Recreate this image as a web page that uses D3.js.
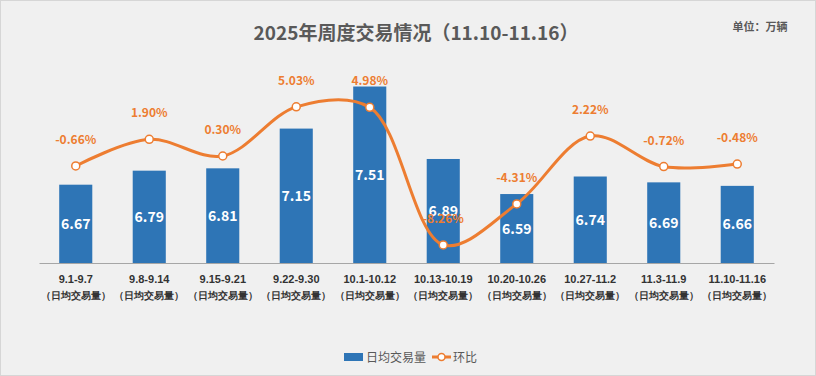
<!DOCTYPE html>
<html>
<head>
<meta charset="utf-8">
<script src="https://cdn.jsdelivr.net/npm/d3@7"></script>
<style>
  body { margin: 0; background: #ffffff; }
  svg { display: block; font-family: "Noto Sans CJK SC", "Noto Sans", sans-serif; }
</style>
</head>
<body>
<svg id="chart" width="816" height="376"></svg>
<script>
// weekly categories
const weeks = ["9.1-9.7", "9.8-9.14", "9.15-9.21", "9.22-9.30", "10.1-10.12",
               "10.13-10.19", "10.20-10.26", "10.27-11.2", "11.3-11.9", "11.10-11.16"];
const subLabel = "（日均交易量）";
// daily average volume (万辆)
const volume = [6.67, 6.79, 6.81, 7.15, 7.51, 6.89, 6.59, 6.74, 6.69, 6.66];
// week-on-week change (%)
const change = [-0.66, 1.90, 0.30, 5.03, 4.98, -8.26, -4.31, 2.22, -0.72, -0.48];

const svg = d3.select("svg#chart");
const width = +svg.attr("width");
const height = +svg.attr("height");
const margin = { top: 76, right: 42, bottom: 113, left: 39 };

const blue = "#2e75b6";
const orange = "#ed7d31";
const pct = d => d3.format(".2f")(d).replace("−", "-") + "%";

// background panel
svg.append("rect")
    .attr("x", 0.5).attr("y", 0.5)
    .attr("width", width - 1).attr("height", height - 1)
    .attr("fill", "#f0f0f0")
    .attr("stroke", "#d6d6d6");

const x = d3.scaleBand()
    .domain(weeks)
    .range([margin.left, width - margin.right])
    .paddingInner(0.55)
    .paddingOuter(0.275);

const y = d3.scaleLinear()
    .domain([6, 7.6])
    .range([height - margin.bottom, margin.top]);

const y2 = d3.scaleLinear()
    .domain([-10, 8])
    .range([height - margin.bottom, margin.top]);

// title
svg.append("text")
    .attr("x", 416).attr("y", 40)
    .attr("text-anchor", "middle")
    .attr("font-size", 19).attr("font-weight", "bold")
    .attr("fill", "#595959")
    .text("2025年周度交易情况（11.10-11.16）");

svg.append("text")
    .attr("x", 760).attr("y", 31)
    .attr("text-anchor", "middle")
    .attr("font-size", 11).attr("font-weight", "bold")
    .attr("fill", "#595959")
    .text("单位：万辆");

// bars
svg.append("g").selectAll("rect")
    .data(volume)
    .join("rect")
    .attr("x", (d, i) => x(weeks[i]))
    .attr("y", d => y(d))
    .attr("width", x.bandwidth())
    .attr("height", d => y(6) - y(d))
    .attr("fill", blue);

// x axis
const xAxis = svg.append("g")
    .attr("transform", `translate(0,${y(6)})`)
    .call(d3.axisBottom(x).tickSize(0).tickFormat(""));
xAxis.select(".domain").attr("stroke", "#a6a6a6").attr("stroke-width", 1.2);
xAxis.selectAll(".tick").each(function (d) {
    const t = d3.select(this);
    t.append("text")
        .attr("y", 20)
        .attr("text-anchor", "middle")
        .attr("font-size", 11).attr("font-weight", "bold")
        .attr("fill", "#333")
        .text(d);
    t.append("text")
        .attr("y", 36)
        .attr("text-anchor", "middle")
        .attr("font-size", 10).attr("font-weight", "bold")
        .attr("fill", "#333")
        .text(subLabel);
});

// bar value labels
svg.append("g").selectAll("text")
    .data(volume)
    .join("text")
    .attr("x", (d, i) => x(weeks[i]) + x.bandwidth() / 2)
    .attr("y", d => (y(d) + y(6)) / 2 + 5)
    .attr("text-anchor", "middle")
    .attr("font-size", 14).attr("font-weight", "bold")
    .attr("fill", "#ffffff")
    .text(d => d3.format(".2f")(d));

// change line
const cx = (d, i) => x(weeks[i]) + x.bandwidth() / 2;
const line = d3.line()
    .x(cx)
    .y(d => y2(d))
    .curve(d3.curveCatmullRom.alpha(0.5));

svg.append("path")
    .datum(change)
    .attr("d", line)
    .attr("fill", "none")
    .attr("stroke", orange)
    .attr("stroke-width", 3);

svg.append("g").selectAll("circle")
    .data(change)
    .join("circle")
    .attr("cx", cx)
    .attr("cy", d => y2(d))
    .attr("r", 4)
    .attr("fill", "#ffffff")
    .attr("stroke", orange)
    .attr("stroke-width", 1.5);

svg.append("g").selectAll("text")
    .data(change)
    .join("text")
    .attr("x", cx)
    .attr("y", d => y2(d) - 22)
    .attr("text-anchor", "middle")
    .attr("font-size", 12).attr("font-weight", "bold")
    .attr("fill", orange)
    .text(pct);

// legend
const legend = svg.append("g").attr("transform", "translate(0,357)");
legend.append("rect")
    .attr("x", 344).attr("y", -4)
    .attr("width", 19).attr("height", 8)
    .attr("fill", blue);
legend.append("text")
    .attr("x", 366).attr("y", 4.5)
    .attr("font-size", 12).attr("fill", "#595959")
    .text("日均交易量");
legend.append("line")
    .attr("x1", 432).attr("x2", 451)
    .attr("stroke", orange).attr("stroke-width", 3);
legend.append("circle")
    .attr("cx", 441.5).attr("r", 3.5)
    .attr("fill", "#ffffff").attr("stroke", orange).attr("stroke-width", 1.5);
legend.append("text")
    .attr("x", 453).attr("y", 4.5)
    .attr("font-size", 12).attr("fill", "#595959")
    .text("环比");
</script>
</body>
</html>
